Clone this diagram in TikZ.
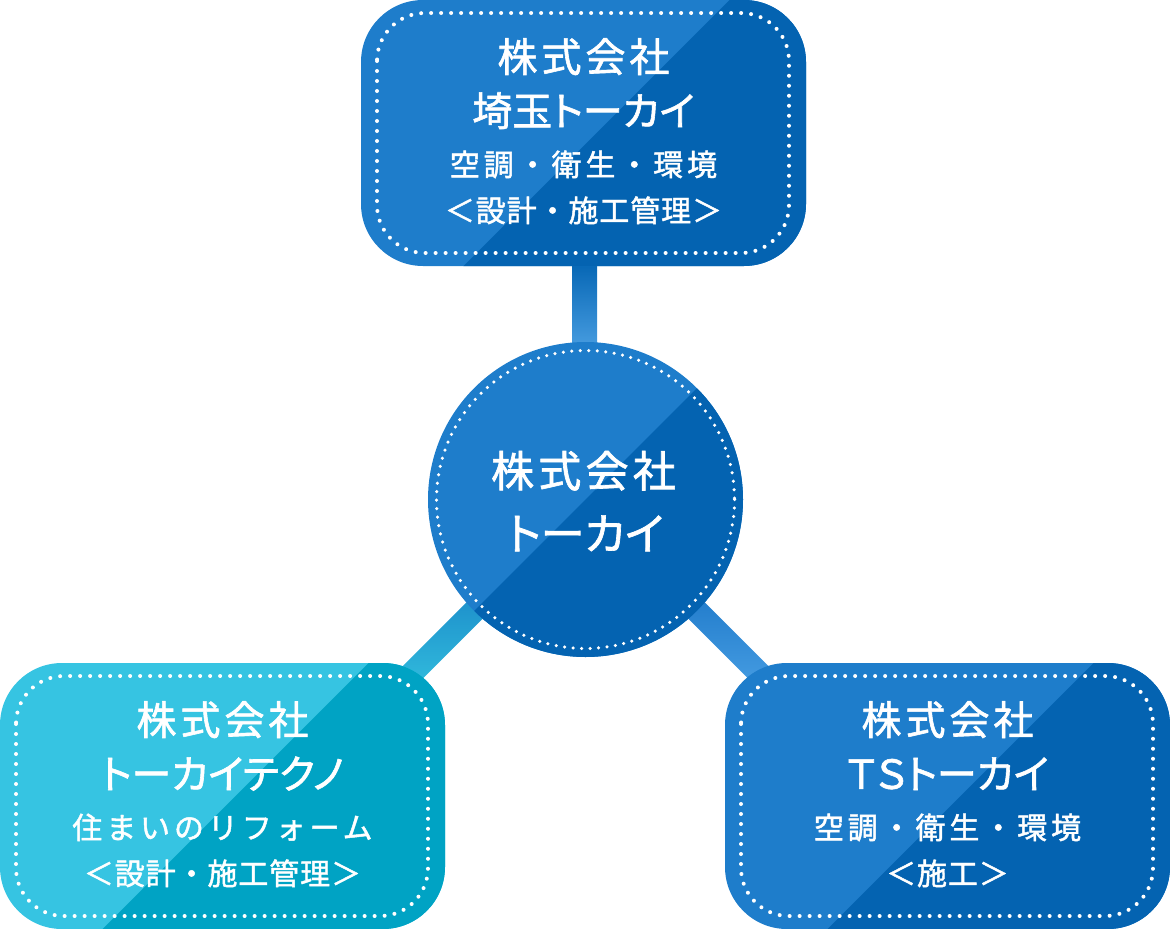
\documentclass[tikz,border=0pt]{standalone}
\usepackage{fontspec}
\newfontfamily\jpP{Noto Sans CJK JP}[RawFeature=+palt, FakeBold=1.5]
\newfontfamily\jpPS{Noto Sans CJK JP}[RawFeature=+palt, FakeBold=1.5, LetterSpace=10]
\newfontfamily\jpN{Noto Sans CJK JP}[FakeBold=1.5, LetterSpace=3]
\newfontfamily\jpNS{Noto Sans CJK JP}[FakeBold=1.5, LetterSpace=13]
\usetikzlibrary{calc,backgrounds}
\definecolor{bluelight}{HTML}{1E7DCB}
\definecolor{bluedark}{HTML}{0463B1}
\definecolor{cyanlight}{HTML}{36C4E2}
\definecolor{cyandark}{HTML}{00A3C4}
\definecolor{bartopA}{HTML}{0767B5}
\definecolor{barbotA}{HTML}{4A9FE2}
\definecolor{bartopB}{HTML}{1B8BC9}
\definecolor{barbotB}{HTML}{35C3E0}
\definecolor{bartopC}{HTML}{1E79C9}
\definecolor{barbotC}{HTML}{4CA2E6}
\tikzset{
  dotline/.style={white, line width=4pt, line cap=round, dash pattern=on 0pt off 10pt},
  dotsmall/.style={white, line width=3.5pt, line cap=round, dash pattern=on 0pt off 8.5pt},
  company/.style n args={2}{rectangle, rounded corners=62pt, inner sep=0pt,
    minimum width=445pt, minimum height=266pt, fill=#1,
    path picture={
      \fill[#2] ($(path picture bounding box.center)+(-287,300)$) --
                ($(path picture bounding box.center)+(313,-300)$) --
                ($(path picture bounding box.center)+(313,300)$) -- cycle;
      \draw[dotline, rounded corners=48pt]
        ($(path picture bounding box.north west)+(16,13)$) rectangle
        ($(path picture bounding box.south east)+(-17,-13)$);
    }},
  hub/.style={circle, inner sep=0pt, minimum size=315pt, fill=bluelight,
    path picture={
      \fill[bluedark] ($(path picture bounding box.center)+(-300,300)$) --
                ($(path picture bounding box.center)+(300,-300)$) --
                ($(path picture bounding box.center)+(300,300)$) -- cycle;
      \draw[dotsmall] (path picture bounding box.center) circle (149);
    }},
  txt/.style={text=white, anchor=base, inner sep=0pt},
  bigtxt/.style={txt, font=\jpP\fontsize{40}{40}\selectfont},
  bigsp/.style={txt, font=\jpPS\fontsize{40}{40}\selectfont},
  hubtxt/.style={txt, font=\jpP\fontsize{44}{44}\selectfont},
  hubsp/.style={txt, xshift=-2pt, font=\jpPS\fontsize{43}{43}\selectfont},
  smalltxt/.style={txt, font=\jpN\fontsize{30}{30}\selectfont},
  smallsp/.style={txt, font=\jpNS\fontsize{30}{30}\selectfont},
}
\begin{document}
\begin{tikzpicture}[x=1pt, y=-1pt]
\useasboundingbox (0,0) rectangle (1170,929);
% shapes
\node[company={bluelight}{bluedark}] (saitama) at (583.5,133) {};
\node[company={cyanlight}{cyandark}] (techno) at (222.5,796) {};
\node[company={bluelight}{bluedark}] (ts) at (947.5,796) {};
\node[hub] (tokai) at (585.5,499.5) {};
% connectors
\coordinate (s1) at ($(tokai.center)!0.85!(tokai.south west)$);
\coordinate (e1) at ($(tokai.center)!1.75!(tokai.south west)$);
\coordinate (s2) at ($(tokai.center)!0.85!(tokai.south east)$);
\coordinate (e2) at ($(tokai.center)!1.75!(tokai.south east)$);
\begin{scope}[on background layer]
\shade[top color=bartopA, bottom color=barbotA]
  ([xshift=-11.5pt,yshift=2pt]saitama.south) rectangle ([xshift=11.5pt,yshift=-10pt]tokai.north);
\shade[top color=bartopB, bottom color=barbotB]
  ($(s1)!11.5pt!90:(e1)$) -- ($(s1)!11.5pt!-90:(e1)$) --
  ($(e1)!11.5pt!90:(s1)$) -- ($(e1)!11.5pt!-90:(s1)$) -- cycle;
\shade[top color=bartopC, bottom color=barbotC]
  ($(s2)!11.5pt!90:(e2)$) -- ($(s2)!11.5pt!-90:(e2)$) --
  ($(e2)!11.5pt!90:(s2)$) -- ($(e2)!11.5pt!-90:(s2)$) -- cycle;
\end{scope}
% texts
\node[bigsp] (a1) at ($(saitama.north)+(0,72)$) {株式会社};
\node[bigtxt] (a2) at ($(saitama.north)+(0,126)$) {埼玉トーカイ};
\node[smallsp] (a3) at ($(saitama.north)+(0,176)$) {空調・衛生・環境};
\node[smalltxt] (a4) at ($(saitama.north)+(0,222)$) {＜設計・施工管理＞};
\node[hubsp] (h1) at ($(tokai.center)+(0,-12.5)$) {株式会社};
\node[hubtxt] (h2) at ($(tokai.center)+(0,50.5)$) {トーカイ};
\node[bigsp] (b1) at ($(techno.north)+(0,72)$) {株式会社};
\node[bigtxt] (b2) at ($(techno.north)+(0,126)$) {トーカイテクノ};
\node[smallsp] (b3) at ($(techno.north)+(0,176)$) {住まいのリフォーム};
\node[smalltxt] (b4) at ($(techno.north)+(0,222)$) {＜設計・施工管理＞};
\node[bigsp] (c1) at ($(ts.north)+(0,72)$) {株式会社};
\node[bigtxt] (c2) at ($(ts.north)+(0,126)$) {ＴＳトーカイ};
\node[smallsp] (c3) at ($(ts.north)+(0,176)$) {空調・衛生・環境};
\node[smalltxt] (c4) at ($(ts.north)+(0,222)$) {＜施工＞};
\end{tikzpicture}
\end{document}
